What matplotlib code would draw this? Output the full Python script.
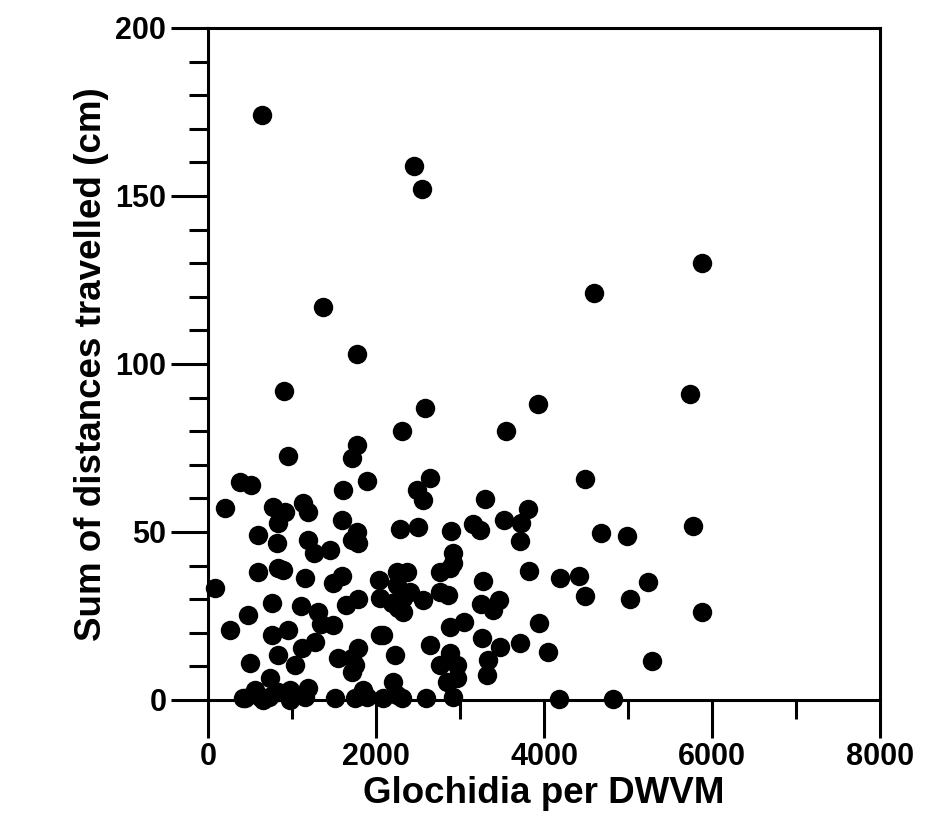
import matplotlib
matplotlib.use("Agg")
import matplotlib.pyplot as plt
from matplotlib.ticker import MultipleLocator

# === DATA ===
glochidia = [
    # bottom row, near zero
    417, 440, 619, 655, 726, 560, 833, 976, 976, 738, 1155, 1190, 1510, 1750,
    1845, 1893, 2083, 2202, 2250, 2310, 2595, 2845, 2917, 2964, 4179, 4821,
    # 5 - 20
    500, 833, 1036, 1119, 1274, 1548, 1714, 1714, 1790, 1750, 2083, 2226, 2643,
    2881, 2762, 2964, 3333, 3321, 3262, 3476, 3714, 4048, 5286, 762, 952, 262,
    # 20 - 40
    83, 476, 762, 595, 833, 893, 1105, 1155, 1310, 1345, 1488, 1488, 1600,
    1645, 1790, 2030, 2048, 2048, 2185, 2250, 2250, 2262, 2321, 2321, 2369,
    2405, 2560, 2762, 2881, 2857, 2762, 2881, 3048, 3274, 3250, 3460, 3393,
    3821, 3940, 4190, 4417, 4488, 5024, 5238, 5881,
    # 40 - 60
    202, 595, 821, 774, 917, 833, 1131, 1190, 1190, 1260, 1452, 1595, 1714,
    1774, 1786, 2280, 2500, 2560, 2890, 3155, 3238, 2917, 2917, 3298, 3524,
    3810, 3726, 3714, 4679, 4988, 5774,
    # 60 - 95
    952, 381, 512, 1607, 1770, 1714, 1893, 2643, 2488, 4488, 2310, 3548, 3929,
    2583, 905, 5738,
    # outliers
    643, 2452, 2548, 1369, 1774, 4600, 5881,
]
distance = [
    0.5, 0.6, 1, 0, 1, 3, 2.4, 3, 0, 6.5, 1, 3.6, 0.5, 0.5,
    3, 1, 0.6, 5.4, 1.5, 0.5, 0.5, 5.4, 0.9, 6.5, 0.3, 0.3,
    11, 13.4, 10.4, 15.5, 17.3, 12.5, 12.5, 8.3, 15.5, 10.4, 19.3, 13.4, 16.4,
    14, 10.4, 10.4, 12, 7.4, 18.5, 15.8, 17, 14.3, 11.6, 19.3, 20.8, 20.8,
    33.3, 25.3, 29, 38, 39.3, 38.7, 28, 36.3, 26.2, 22.5, 22.3, 34.8, 37,
    28.3, 30, 35.6, 30.4, 19.3, 29, 38, 34.2, 27.4, 30.4, 26.2, 38,
    32.1, 29.8, 38, 39.3, 31.2, 32, 21.6, 23.2, 35.4, 28.6, 29.8, 26.8,
    38.4, 22.9, 36.3, 36.9, 31, 30, 35.1, 26.2,
    57.1, 49, 46.7, 57.4, 56, 52.7, 58.6, 56, 47.6, 43.6, 44.6, 53.6, 47.6,
    50, 46.7, 51, 51.5, 59.5, 50.4, 52.4, 50.6, 43.7, 40.8, 59.8, 53.6,
    56.8, 52.7, 47.3, 49.7, 48.8, 51.8,
    72.6, 64.9, 64, 62.5, 76, 72, 65.2, 66, 62.5, 65.8, 80, 80, 88,
    87, 92, 91,
    174, 159, 152, 117, 103, 121, 130,
]

x_ticks = [0, 2000, 4000, 6000, 8000]
y_ticks = [0, 50, 100, 150, 200]

plt.rcParams["font.family"] = ["Liberation Sans", "DejaVu Sans"]
plt.rcParams["font.weight"] = "bold"

fig = plt.figure(figsize=(9.29, 8.4), dpi=100)
ax = fig.add_axes([0.2239, 0.1667, 0.7234, 0.80])

ax.plot(glochidia, distance, "o", color="black", markersize=14,
        markeredgewidth=0, clip_on=False, zorder=3)

ax.set_xlim(0, 8000)
ax.set_ylim(0, 200)
ax.set_xticks(x_ticks)
ax.set_yticks(y_ticks)
ax.xaxis.set_minor_locator(MultipleLocator(1000))
ax.yaxis.set_minor_locator(MultipleLocator(10))

for s in ax.spines.values():
    s.set_linewidth(2.2)
ax.tick_params(which="major", direction="out", length=27, width=2.2,
               labelsize=22, pad=3)
ax.tick_params(which="minor", direction="out", length=14, width=2.2)
for lab in ax.get_xticklabels() + ax.get_yticklabels():
    lab.set_fontweight("bold")

ax.set_xlabel("Glochidia per DWVM", fontsize=26.5, fontweight="bold")
ax.set_ylabel("Sum of distances travelled (cm)", fontsize=26.5, fontweight="bold")
ax.xaxis.set_label_coords(0.5, -0.113)
ax.yaxis.set_label_coords(-0.147, 0.5)

fig.savefig("out.png", dpi=100)
